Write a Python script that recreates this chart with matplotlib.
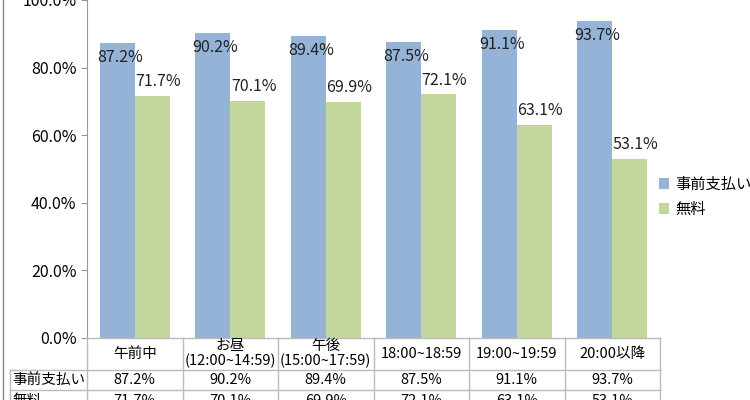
import numpy as np
import matplotlib
matplotlib.use("Agg")
import matplotlib.pyplot as plt
from matplotlib.lines import Line2D

plt.rcParams['font.family'] = ['Noto Sans CJK JP', 'DejaVu Sans']

categories = ['午前中', 'お昼\n(12:00~14:59)', '午後\n(15:00~17:59)',
              '18:00~18:59', '19:00~19:59', '20:00以降']
prepaid = [87.2, 90.2, 89.4, 87.5, 91.1, 93.7]
free = [71.7, 70.1, 69.9, 72.1, 63.1, 53.1]
series_names = ['事前支払い', '無料']
colors = ['#95B3D7', '#C3D69B']

W, H = 750, 400
fig = plt.figure(figsize=(7.5, 4), dpi=100)

def fx(px):
    return px / W

def fy(py):
    return 1 - py / H

ax_l, ax_r, ax_b, ax_t = 87, 660, 338, 0
ax = fig.add_axes([fx(ax_l), fy(ax_b), fx(ax_r - ax_l), fy(ax_t) - fy(ax_b)])

n = len(categories)
x = np.arange(n)
bw = 0.367
ax.bar(x - bw / 2, prepaid, bw, color=colors[0], label=series_names[0])
ax.bar(x + bw / 2, free, bw, color=colors[1], label=series_names[1])

for i in range(n):
    ax.text(x[i] - bw / 2 + 0.03, prepaid[i] - 4.2, f'{prepaid[i]:.1f}%',
            ha='center', va='center', fontsize=11.5, color='#222222')
    ax.text(x[i] + bw / 2 + 0.06, free[i] + 4.2, f'{free[i]:.1f}%',
            ha='center', va='center', fontsize=11.5, color='#222222')

ax.set_xlim(-0.5, n - 0.5)
ax.set_ylim(0, 100)
ax.set_yticks(np.arange(0, 101, 20))
ax.set_yticklabels([f'{v:.1f}%' for v in np.arange(0, 101, 20)], fontsize=11.5)
ax.tick_params(axis='y', length=4, color='#999999')
ax.set_xticks([])
for s in ['top', 'right', 'bottom']:
    ax.spines[s].set_visible(False)
ax.spines['left'].set_color('#999999')

leg = fig.legend(loc='center left', bbox_to_anchor=(fx(645), fy(197)),
                 frameon=False, fontsize=11, handlelength=0.7, handleheight=0.7,
                 handletextpad=0.4, labelspacing=0.5)

# data table below the axes
lc = '#bbbbbb'
def hline(y, x0, x1):
    fig.add_artist(Line2D([fx(x0), fx(x1)], [fy(y), fy(y)], color=lc, lw=1))

def vline(xp, y0, y1):
    fig.add_artist(Line2D([fx(xp), fx(xp)], [fy(y0), fy(y1)], color=lc, lw=1))

cw = (ax_r - ax_l) / n
hline(338, ax_l, ax_r)
hline(370, 10, ax_r)
hline(390, 10, ax_r)
for i in range(n + 1):
    vline(ax_l + i * cw, 338, 400)
vline(10, 370, 400)

rows = [prepaid, free]
for i, c in enumerate(categories):
    cx = fx(ax_l + (i + 0.5) * cw)
    fig.text(cx, fy(354), c, ha='center', va='center', fontsize=10.5, linespacing=1.05)
    for vals, yp in zip(rows, [380, 401]):
        fig.text(cx, fy(yp), f'{vals[i]:.1f}%', ha='center', va='center', fontsize=10.5)
for name, yp in zip(series_names, [380, 401]):
    fig.text(fx(12), fy(yp), name, ha='left', va='center', fontsize=10.5)

# outer frame (left edge)
fig.add_artist(Line2D([fx(3), fx(3)], [0, 1], color='#888888', lw=1))

fig.savefig('out.png', dpi=100)
